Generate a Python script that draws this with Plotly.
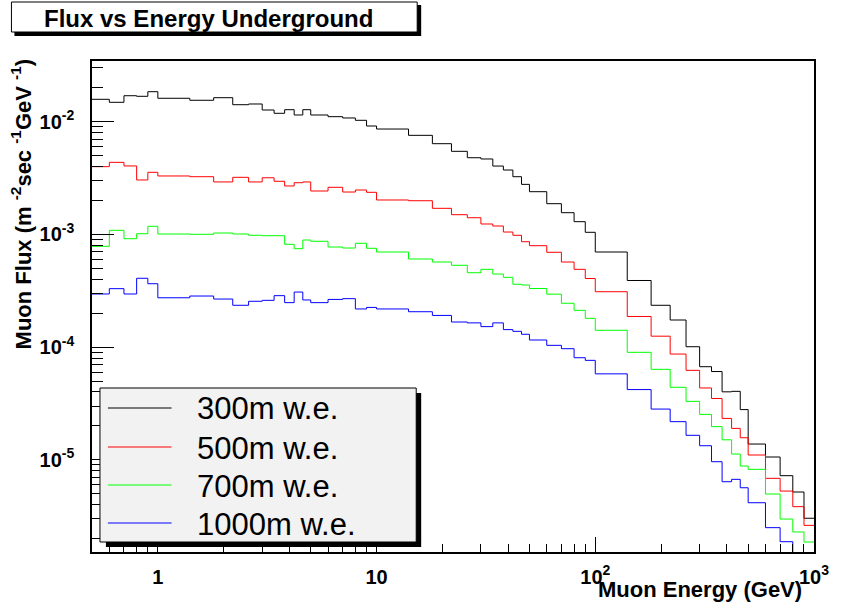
import numpy as np
import plotly.graph_objects as go

# Bin edges of the muon-energy histograms (GeV)
energy_edges = [0.5, 0.6, 0.7, 0.8, 0.9,
                1.0, 1.4, 1.8, 2.2, 2.6, 3.0, 3.4, 3.8, 4.2, 4.6,
                5, 6, 7, 8, 9,
                10, 14, 18, 22, 26, 30, 34, 38, 42, 46,
                50, 60, 70, 80, 90,
                100, 140, 180, 220, 260, 300, 340, 380, 420, 460,
                500, 600, 700, 800, 900, 1000]

# Muon flux per bin (m^-2 s^-1 GeV^-1) for each depth
flux_300 = [0.0158, 0.01486, 0.0170, 0.0168, 0.01846,
            0.01614, 0.01549, 0.01633, 0.01415, 0.01436, 0.0127, 0.01187, 0.01278, 0.01147, 0.01278,
            0.01147, 0.01108, 0.01079, 0.01029, 0.00916,
            0.00861, 0.00757, 0.00638, 0.00546, 0.00479, 0.00467, 0.00404, 0.003726, 0.00325, 0.00278,
            0.002393, 0.001873, 0.001558, 0.001297, 0.001044,
            0.000698, 0.00039, 0.000235, 0.000174, 0.0001008, 6.70e-5, 6.07e-5, 4.01e-5, 4.05e-5, 2.79e-5,
            1.38e-5, 1.059e-5, 7.23e-6, 5.18e-6, 3.03e-6]

flux_500 = [0.00399, 0.00436, 0.00405, 0.00304, 0.003556,
            0.0033, 0.00325, 0.00292, 0.00321, 0.00292, 0.00318, 0.00296, 0.00269, 0.002875, 0.00292,
            0.002427, 0.002618, 0.002377, 0.002477, 0.002363,
            0.00202, 0.00199, 0.001704, 0.001496, 0.001406, 0.001237, 0.001187, 0.00105, 0.000982, 0.000861,
            0.000794, 0.000694, 0.000569, 0.00049, 0.000406,
            0.00031, 0.000187, 0.000125, 8.68e-5, 6.22e-5, 4.34e-5, 3.50e-5, 2.33e-5, 1.90e-5, 1.57e-5,
            1.103e-5, 6.85e-6, 5.28e-6, 3.84e-6, 2.62e-6]

flux_700 = [0.000784, 0.001087, 0.000916, 0.001014, 0.00118,
            0.001008, 0.001002, 0.001029, 0.001008, 0.000982, 0.000974, 0.000974, 0.000817, 0.000747, 0.000892,
            0.000869, 0.000773, 0.000757, 0.000834, 0.000753,
            0.000698, 0.000605, 0.000569, 0.000532, 0.000457, 0.00049, 0.000445, 0.000416, 0.000361, 0.000356,
            0.000331, 0.000295, 0.000245, 0.000212, 0.00018,
            0.000141, 8.99e-5, 6.35e-5, 4.40e-5, 3.30e-5, 2.53e-5, 1.97e-5, 1.505e-5, 1.125e-5, 8.81e-6,
            8.23e-6, 4.97e-6, 2.98e-6, 2.29e-6, 1.865e-6]

flux_1000 = [0.000296, 0.00033, 0.000296, 0.000408, 0.000365,
             0.000274, 0.000284, 0.000267, 0.000235, 0.000255, 0.00026, 0.000286, 0.000248, 0.000308, 0.000262,
             0.000248, 0.000265, 0.000269, 0.000218, 0.000225,
             0.000218, 0.000206, 0.000191, 0.000167, 0.000164, 0.000152, 0.000164, 0.000143, 0.000138, 0.00013,
             0.0001156, 0.0001037, 9.68e-5, 8.05e-5, 7.63e-5,
             5.79e-5, 4.2e-5, 2.82e-5, 2.18e-5, 1.65e-5, 1.333e-5, 9.62e-6, 6.39e-6, 6.71e-6, 5.65e-6,
             4.16e-6, 2.50e-6, 1.877e-6, 0.0, 0.0]

series_names = ["300m w.e.", "500m w.e.", "700m w.e.", "1000m w.e."]
series_colors = ["#000000", "#ff0000", "#00ff00", "#0000ff"]
series_values = [flux_300, flux_500, flux_700, flux_1000]

x_tick_vals = [1, 10, 100, 1000]
x_tick_text = ["1", "10", "10<sup>2</sup>", "10<sup>3</sup>"]
y_tick_vals = [1e-5, 1e-4, 1e-3, 1e-2]
y_tick_text = ["10<sup>-5</sup>", "10<sup>-4</sup>", "10<sup>-3</sup>", "10<sup>-2</sup>"]

FONT = "Arial, Liberation Sans, Helvetica, sans-serif"
X_RANGE = [np.log10(0.5), 3.0]
Y_RANGE = [-5.818, -1.4614]
EMPTY_FLOOR = 1e-8  # empty bins drop below the visible log range

fig = go.Figure()
for name, color, vals in zip(series_names, series_colors, series_values):
    y = [v if v > 0 else EMPTY_FLOOR for v in vals]
    fig.add_trace(go.Scatter(
        x=energy_edges, y=y + [y[-1]],
        mode="lines", line=dict(color=color, width=1, shape="hv"),
        name=name, hoverinfo="skip", showlegend=False,
    ))

# minor tick positions (2..9 within each decade)
minor_x = [m * 10.0 ** k for k in range(-1, 3) for m in range(2, 10)
           if 0.5 <= m * 10.0 ** k <= 1000]
minor_y = [m * 10.0 ** k for k in range(-6, -1) for m in range(2, 10)
           if 10 ** Y_RANGE[0] <= m * 10.0 ** k <= 10 ** Y_RANGE[1]]

axis_common = dict(
    showgrid=False, zeroline=False, showline=True, linecolor="black",
    linewidth=1.5, mirror=True, ticks="inside", tickcolor="black", tickwidth=1,
    tickfont=dict(family=FONT, size=20, color="black", weight="bold"),
)

fig.update_xaxes(
    type="log", range=X_RANGE, tickmode="array",
    tickvals=x_tick_vals, ticktext=x_tick_text, ticklen=15,
    ticklabelstandoff=6,
    minor=dict(tickmode="array", tickvals=minor_x, ticks="inside",
               ticklen=8, tickcolor="black", tickwidth=1, showgrid=False),
    **axis_common,
)
fig.update_yaxes(
    type="log", range=Y_RANGE, tickmode="array",
    tickvals=y_tick_vals, ticktext=y_tick_text, ticklen=22,
    ticklabelstandoff=12,
    minor=dict(tickmode="array", tickvals=minor_y, ticks="inside",
               ticklen=11, tickcolor="black", tickwidth=1, showgrid=False),
    **axis_common,
)

W, H = 841, 612
L, R, T, B = 92, 23, 61, 60
pw, ph = W - L - R, H - T - B


def px(xp):
    return (xp - L) / pw


def py(yp):
    return (H - B - yp) / ph


shapes = [
    # title box shadow and box
    dict(type="rect", xref="paper", yref="paper", x0=px(14), x1=px(423), y0=py(5), y1=py(36),
         fillcolor="black", line=dict(width=0), layer="above"),
    dict(type="rect", xref="paper", yref="paper", x0=px(11), x1=px(419), y0=py(2), y1=py(32),
         fillcolor="white", line=dict(color="black", width=1), layer="above"),
    # legend box shadow and box
    dict(type="rect", xref="paper", yref="paper", x0=px(106), x1=px(423), y0=py(393), y1=py(547),
         fillcolor="black", line=dict(width=0), layer="above"),
    dict(type="rect", xref="paper", yref="paper", x0=px(100), x1=px(418), y0=py(388), y1=py(542),
         fillcolor="#f2f2f2", line=dict(color="black", width=1), layer="above"),
]

annotations = [
    dict(text="<b>Flux vs Energy Underground</b>", xref="paper", yref="paper",
         x=px(209), y=py(18), xanchor="center", yanchor="middle", showarrow=False,
         font=dict(family=FONT, size=24, color="black")),
    dict(text="<b>Muon Energy (GeV)</b>", xref="paper", yref="paper",
         x=px(808), y=py(589), xanchor="right", yanchor="middle", showarrow=False,
         font=dict(family=FONT, size=22, color="black")),
    dict(text="<b>Muon Flux (m <sup>-2</sup>sec <sup>-1</sup>GeV <sup>-1</sup>)</b>",
         xref="paper", yref="paper", x=px(21), y=py(57), xanchor="center", yanchor="top",
         textangle=-90, showarrow=False,
         font=dict(family=FONT, size=22, color="black")),
]

# legend entries: sample line plus label, one row per depth
legend_rows = [408, 447, 485, 523]
for name, color, row in zip(series_names, series_colors, legend_rows):
    shapes.append(dict(type="line", xref="paper", yref="paper",
                       x0=px(108), x1=px(172), y0=py(row), y1=py(row),
                       line=dict(color=color, width=1), layer="above"))
    annotations.append(dict(text=name, xref="paper", yref="paper",
                            x=px(196), y=py(row + 1), xanchor="left", yanchor="middle",
                            showarrow=False,
                            font=dict(family=FONT, size=31, color="black")))

fig.update_layout(
    width=W, height=H,
    margin=dict(l=L, r=R, t=T, b=B, pad=0),
    paper_bgcolor="white", plot_bgcolor="white",
    font=dict(family=FONT, color="black"),
    shapes=shapes, annotations=annotations,
    showlegend=False,
)

fig.write_html("out.html")
